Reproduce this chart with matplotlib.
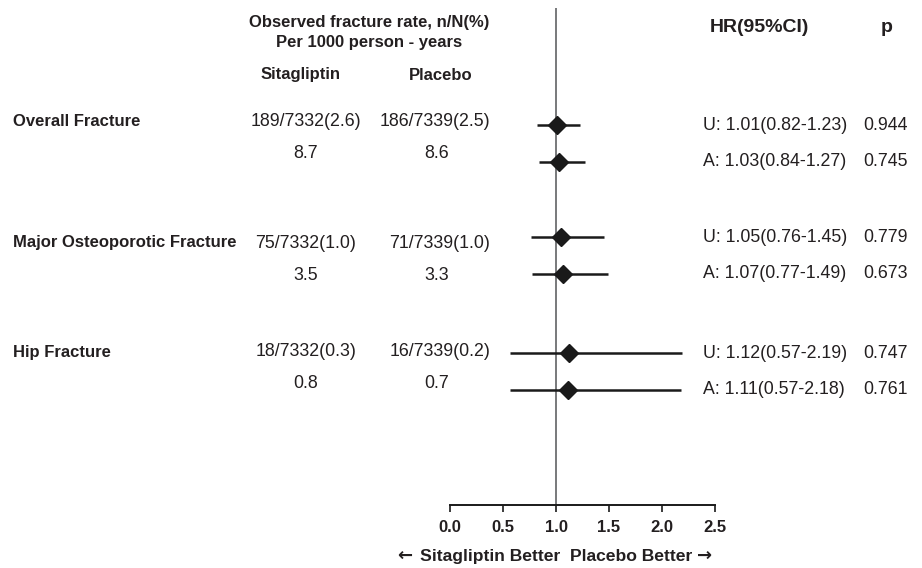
import matplotlib
matplotlib.use("Agg")
import matplotlib.pyplot as plt

plt.rcParams["font.family"] = ["Liberation Sans", "DejaVu Sans"]

# ---- data ----
outcomes = ["Overall Fracture", "Major Osteoporotic Fracture", "Hip Fracture"]
sita_counts = ["189/7332(2.6)", "75/7332(1.0)", "18/7332(0.3)"]
plac_counts = ["186/7339(2.5)", "71/7339(1.0)", "16/7339(0.2)"]
sita_rates = ["8.7", "3.5", "0.8"]
plac_rates = ["8.6", "3.3", "0.7"]

model = ["U", "A", "U", "A", "U", "A"]
hr = [1.01, 1.03, 1.05, 1.07, 1.12, 1.11]
ci_low = [0.82, 0.84, 0.76, 0.77, 0.57, 0.57]
ci_high = [1.23, 1.27, 1.45, 1.49, 2.19, 2.18]
p_values = ["0.944", "0.745", "0.779", "0.673", "0.747", "0.761"]

x_ticks = [0.0, 0.5, 1.0, 1.5, 2.0, 2.5]

# ---- layout (pixel units on a 922x568 canvas) ----
W, H = 922, 568
TXT = "#231f20"
group_top = [125, 237, 353]      # y of the "U" row of each group
row_gap = 37
table_y = [121, 243, 352]        # y of the count row in the left table
rate_gap = 32

fig = plt.figure(figsize=(W / 100, H / 100), dpi=100)
fig.patch.set_facecolor("white")

# overlay axes for all the table text
tx = fig.add_axes([0, 0, 1, 1])
tx.set_xlim(0, W)
tx.set_ylim(H, 0)
tx.axis("off")

tx.text(369, 22, "Observed fracture rate, n/N(%)", ha="center", va="center",
        fontsize=12, fontweight="bold", color=TXT)
tx.text(369, 42, "Per 1000 person - years", ha="center", va="center",
        fontsize=12, fontweight="bold", color=TXT)
tx.text(301, 75, "Sitagliptin", ha="center", va="center",
        fontsize=12, fontweight="bold", color=TXT)
tx.text(441, 75, "Placebo", ha="center", va="center",
        fontsize=12, fontweight="bold", color=TXT)
tx.text(759, 27, "HR(95%CI)", ha="center", va="center",
        fontsize=14, fontweight="bold", color=TXT)
tx.text(887, 27, "p", ha="center", va="center",
        fontsize=14, fontweight="bold", color=TXT)

for i, name in enumerate(outcomes):
    y = table_y[i]
    tx.text(13, y, name, ha="left", va="center", fontsize=12,
            fontweight="bold", color=TXT)
    tx.text(306, y, sita_counts[i], ha="center", va="center",
            fontsize=12.75, color=TXT)
    tx.text(490, y, plac_counts[i], ha="right", va="center",
            fontsize=12.75, color=TXT)
    tx.text(306, y + rate_gap, sita_rates[i], ha="center", va="center",
            fontsize=12.75, color=TXT)
    tx.text(437, y + rate_gap, plac_rates[i], ha="center", va="center",
            fontsize=12.75, color=TXT)

row_y = []
for g in group_top:
    row_y += [g, g + row_gap]

for i, y in enumerate(row_y):
    tx.text(703, y, f"{model[i]}: {hr[i]:.2f}({ci_low[i]:.2f}-{ci_high[i]:.2f})",
            ha="left", va="center", fontsize=12.75, color=TXT)
    tx.text(908, y, p_values[i], ha="right", va="center",
            fontsize=12.75, color=TXT)

# ---- forest plot axes ----
ax_left, ax_right, ax_top, ax_bottom = 450, 715, 8, 505
ax = fig.add_axes([ax_left / W, (H - ax_bottom) / H,
                   (ax_right - ax_left) / W, (ax_bottom - ax_top) / H])
ax.set_facecolor("none")
ax.set_xlim(0, 2.5)
ax.set_ylim(ax_bottom, ax_top)

ax.axvline(1.0, color="#6d6e71", linewidth=1.3, zorder=1)

for i, y in enumerate(row_y):
    ax.plot([ci_low[i], ci_high[i]], [y, y], color="#1a1a1a",
            linewidth=1.8, solid_capstyle="butt", zorder=2)
    ax.plot(hr[i], y, marker="D", markersize=9.5, color="#1a1a1a", zorder=3)

for side in ["top", "left", "right"]:
    ax.spines[side].set_visible(False)
ax.spines["bottom"].set_color("#1a1a1a")
ax.spines["bottom"].set_linewidth(1.4)
ax.set_yticks([])
ax.set_xticks(x_ticks)
ax.set_xticklabels([f"{t:.1f}" for t in x_ticks])
ax.tick_params(axis="x", length=5, width=1.2, color="#1a1a1a",
               labelsize=12, labelcolor=TXT, pad=6)
for lbl in ax.get_xticklabels():
    lbl.set_fontweight("bold")

# caption under the axis, heavy arrows drawn with DejaVu
tx.text(556, 557, "Sitagliptin Better  Placebo Better",
        ha="center", va="center", fontsize=12.6, fontweight="bold",
        color=TXT)
tx.text(405, 556, "\u2190", ha="center", va="center", fontsize=13,
        fontweight="bold", family="DejaVu Sans", color=TXT)
tx.text(705, 556, "\u2192", ha="center", va="center", fontsize=13,
        fontweight="bold", family="DejaVu Sans", color=TXT)

fig.savefig("out.png", dpi=100, facecolor="white")
plt.close(fig)
